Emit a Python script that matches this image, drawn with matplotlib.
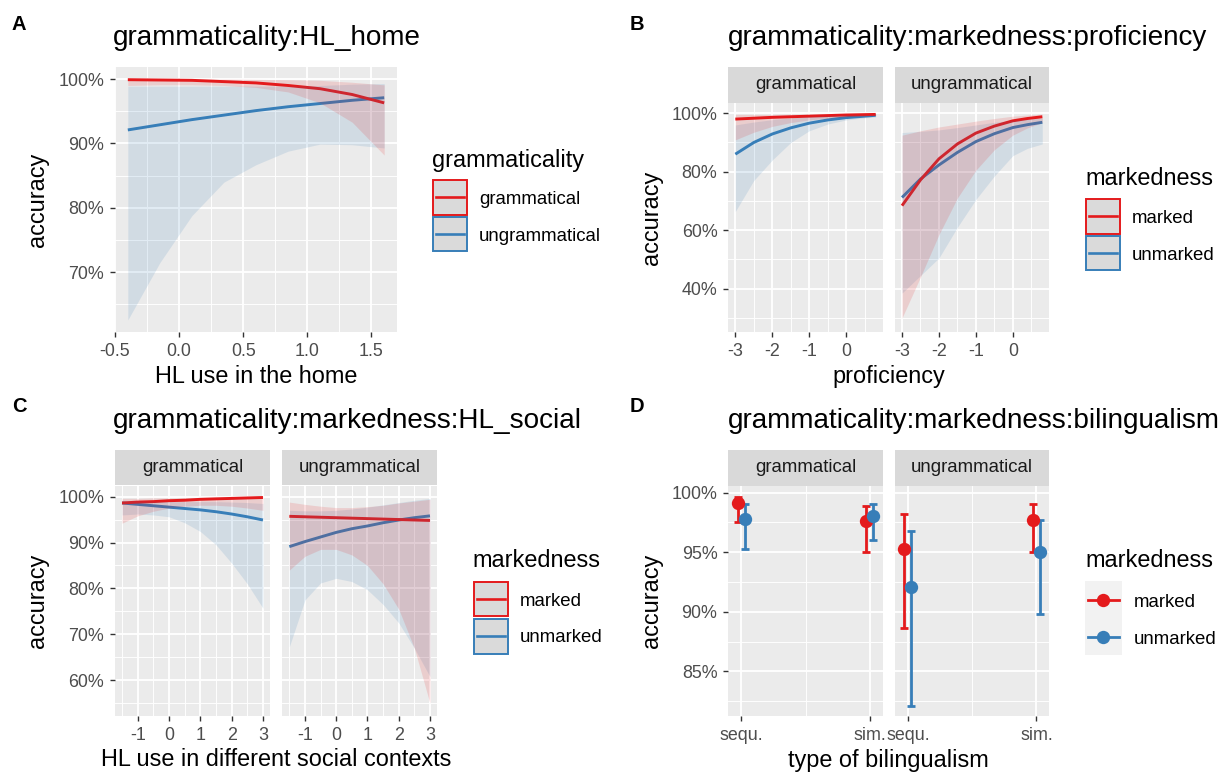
import matplotlib
matplotlib.use("Agg")
import matplotlib.pyplot as plt
from matplotlib.patches import Rectangle
from matplotlib.lines import Line2D
from matplotlib.ticker import FuncFormatter

plt.rcParams['font.family'] = ['Liberation Sans', 'DejaVu Sans']
plt.rcParams['axes.unicode_minus'] = False

# ---------------- data ----------------
RED = '#E41A1C'
BLUE = '#377EB8'

# Panel A: grammaticality:HL_home
a_x = [-0.4, -0.15, 0.1, 0.35, 0.6, 0.85, 1.1, 1.35, 1.6]
a_gram_fit = [99.9, 99.85, 99.8, 99.6, 99.4, 99.0, 98.5, 97.6, 96.3]
a_gram_hi = [100.0, 100.0, 100.0, 100.0, 99.95, 99.9, 99.8, 99.5, 99.1]
a_gram_lo = [99.0, 99.1, 99.1, 99.0, 98.7, 98.0, 96.3, 93.3, 88.2]
a_ungr_fit = [92.1, 92.9, 93.7, 94.4, 95.1, 95.7, 96.2, 96.7, 97.1]
a_ungr_hi = [98.9, 98.9, 98.9, 98.9, 98.9, 98.9, 99.0, 99.2, 99.3]
a_ungr_lo = [62.6, 71.5, 78.8, 84.0, 86.7, 88.8, 89.9, 89.8, 89.3]

# Panel B: grammaticality:markedness:proficiency
b_x = [-3.0, -2.5, -2.0, -1.5, -1.0, -0.5, 0.0, 0.4, 0.8]
b_g_mk_fit = [98.0, 98.3, 98.6, 98.8, 99.0, 99.2, 99.4, 99.5, 99.6]
b_g_mk_hi = [99.6, 99.6, 99.6, 99.7, 99.7, 99.7, 99.8, 99.8, 99.8]
b_g_mk_lo = [90.9, 93.5, 95.5, 96.8, 97.7, 98.3, 98.8, 99.0, 99.2]
b_g_um_fit = [86.0, 90.0, 92.9, 95.0, 96.6, 97.7, 98.5, 98.9, 99.3]
b_g_um_hi = [96.0, 97.0, 97.8, 98.4, 98.9, 99.2, 99.4, 99.5, 99.6]
b_g_um_lo = [66.4, 77.0, 84.0, 90.0, 94.0, 96.3, 97.7, 98.3, 98.7]
b_u_mk_fit = [68.4, 77.2, 84.4, 89.5, 93.2, 95.6, 97.4, 98.2, 98.8]
b_u_mk_hi = [92.5, 94.0, 95.3, 96.3, 97.3, 98.2, 99.0, 99.4, 99.7]
b_u_mk_lo = [30.0, 44.0, 58.5, 71.0, 80.5, 87.5, 92.5, 95.0, 96.8]
b_u_um_fit = [71.2, 77.5, 82.3, 86.6, 90.3, 93.0, 95.1, 96.1, 96.9]
b_u_um_hi = [93.4, 93.8, 94.3, 95.1, 96.0, 96.9, 97.6, 98.0, 98.3]
b_u_um_lo = [38.5, 44.5, 50.5, 61.0, 70.5, 78.5, 85.5, 88.0, 89.5]

# Panel C: grammaticality:markedness:HL_social
c_x = [-1.5, -1.0, -0.5, 0.0, 0.5, 1.0, 1.5, 2.0, 2.5, 3.0]
c_g_mk_fit = [98.6, 98.8, 98.9, 99.1, 99.2, 99.4, 99.5, 99.6, 99.7, 99.8]
c_g_mk_hi = [99.6, 99.6, 99.7, 99.7, 99.8, 99.8, 99.9, 99.9, 99.95, 99.95]
c_g_mk_lo = [94.2, 95.8, 96.8, 97.5, 97.9, 98.1, 98.1, 97.9, 97.5, 97.0]
c_g_um_fit = [98.6, 98.3, 98.0, 97.7, 97.4, 97.1, 96.7, 96.2, 95.6, 94.9]
c_g_um_hi = [99.2, 99.1, 99.0, 98.9, 98.9, 98.9, 98.9, 98.8, 98.7, 98.5]
c_g_um_lo = [96.0, 96.2, 96.0, 95.6, 94.3, 92.4, 89.5, 85.5, 81.0, 75.7]
c_u_mk_fit = [95.7, 95.6, 95.5, 95.4, 95.3, 95.2, 95.1, 95.0, 94.9, 94.8]
c_u_mk_hi = [98.8, 98.3, 97.9, 97.6, 97.6, 97.8, 98.1, 98.6, 99.0, 99.4]
c_u_mk_lo = [84.0, 87.0, 88.5, 88.5, 87.3, 85.0, 81.0, 75.5, 67.0, 55.0]
c_u_um_fit = [89.1, 90.2, 91.2, 92.2, 93.0, 93.6, 94.3, 94.9, 95.4, 95.8]
c_u_um_hi = [97.0, 96.9, 96.9, 97.0, 97.3, 97.7, 98.2, 98.7, 99.2, 99.6]
c_u_um_lo = [67.3, 77.5, 81.2, 82.2, 81.5, 79.7, 76.5, 72.5, 67.0, 60.8]

# Panel D: grammaticality:markedness:bilingualism
d_types = ['sequ.', 'sim.']
d_g_mk = [99.11, 97.60]
d_g_mk_hi = [99.66, 98.88]
d_g_mk_lo = [97.56, 94.99]
d_g_um = [97.79, 98.00]
d_g_um_hi = [99.02, 99.05]
d_g_um_lo = [95.27, 96.03]
d_u_mk = [95.27, 97.70]
d_u_mk_hi = [98.18, 99.02]
d_u_mk_lo = [88.60, 94.99]
d_u_um = [92.10, 95.04]
d_u_um_hi = [96.78, 97.70]
d_u_um_lo = [82.08, 89.78]

facet_names = ['grammatical', 'ungrammatical']
mark_names = ['marked', 'unmarked']

# ---------------- layout helpers ----------------
W, H = 1230, 772
fig = plt.figure(figsize=(W / 100, H / 100), dpi=100)
fig.patch.set_facecolor('white')

LW = 2.1
TICK_FS = 12.9
AX_FS = 16.9
TITLE_FS = 20.1
SMALL_FS = 13.4
TAG_FS = 14.5


def fx(x):
    return x / W


def fy(y):
    return 1 - y / H


def add_ax(x0, y0, x1, y1):
    return fig.add_axes([x0 / W, 1 - y1 / H, (x1 - x0) / W, (y1 - y0) / H])


pct = FuncFormatter(lambda v, _: f"{v:g}%")


def style(ax, xlim, ylim, xmaj, xmin, ymaj, ymin, show_y=True, xlabels=None):
    ax.set_facecolor('#EBEBEB')
    for s in ax.spines.values():
        s.set_visible(False)
    ax.set_axisbelow(True)
    ax.set_xlim(*xlim)
    ax.set_ylim(*ylim)
    ax.set_xticks(xmaj)
    ax.set_xticks(xmin, minor=True)
    ax.set_yticks(ymaj)
    ax.set_yticks(ymin, minor=True)
    if xlabels is not None:
        ax.set_xticklabels(xlabels)
    ax.yaxis.set_major_formatter(pct)
    ax.grid(which='major', color='white', lw=1.3)
    ax.grid(which='minor', color='white', lw=0.65)
    ax.tick_params(which='minor', length=0)
    ax.tick_params(which='major', length=3.6, width=1.0, color='#333333',
                   labelcolor='#4D4D4D', labelsize=TICK_FS, pad=4.2)
    if not show_y:
        ax.tick_params(axis='y', which='both', left=False, labelleft=False)


def strip(x0, y0, x1, y1, label):
    s = add_ax(x0, y0, x1, y1)
    s.set_facecolor('#D9D9D9')
    for sp in s.spines.values():
        sp.set_visible(False)
    s.set_xticks([])
    s.set_yticks([])
    s.text(0.5, 0.5, label, ha='center', va='center', fontsize=SMALL_FS,
           color='#1A1A1A', transform=s.transAxes)


def ribbons(ax, x, groups):
    # groups: list of (fit, lo, hi, color); lines first, ribbons drawn over them
    for fit, lo, hi, col in groups:
        ax.plot(x, fit, color=col, lw=LW, zorder=2, solid_capstyle='butt')
    for fit, lo, hi, col in groups:
        ax.fill_between(x, lo, hi, color=col, alpha=0.14, lw=0, zorder=3)


def ribbon_legend(x0, title_base, key_tops, labels, label_bases, title):
    fig.text(fx(x0), fy(title_base), title, fontsize=AX_FS, va='baseline', ha='left')
    for top, col, lab, lb in zip(key_tops, [RED, BLUE], labels, label_bases):
        r = Rectangle((fx(x0 + 0.8), fy(top + 34.5)), 34.5 / W, 34.5 / H,
                      transform=fig.transFigure, facecolor='#DADADA',
                      edgecolor=col, lw=1.4)
        fig.add_artist(r)
        yc = top + 17.25
        fig.add_artist(Line2D([fx(x0 + 4), fx(x0 + 32)], [fy(yc), fy(yc)],
                              transform=fig.transFigure, color=col, lw=1.9))
        fig.text(fx(x0 + 47), fy(lb), lab, fontsize=SMALL_FS, va='baseline', ha='left')


# ---------------- Panel A ----------------
axA = add_ax(115, 67, 397, 332)
style(axA, (-0.5, 1.7), (60.73, 101.87),
      [-0.5, 0.0, 0.5, 1.0, 1.5], [-0.25, 0.25, 0.75, 1.25],
      [70, 80, 90, 100], [65, 75, 85, 95],
      xlabels=['-0.5', '0.0', '0.5', '1.0', '1.5'])
ribbons(axA, a_x, [(a_ungr_fit, a_ungr_lo, a_ungr_hi, BLUE),
                   (a_gram_fit, a_gram_lo, a_gram_hi, RED)])
fig.text(fx(12), fy(29.5), 'A', fontsize=TAG_FS, weight='bold', va='baseline')
fig.text(fx(113), fy(45), 'grammaticality:HL_home', fontsize=TITLE_FS, va='baseline')
fig.text(fx(37), fy(199.5), 'accuracy', fontsize=AX_FS, rotation=90, va='center', ha='center')
fig.text(fx(256), fy(376.7), 'HL use in the home', fontsize=AX_FS, va='center', ha='center')
ribbon_legend(432, 166.7, [180, 216.7], ['grammatical', 'ungrammatical'],
              [204, 240.7], 'grammaticality')

# ---------------- Panel B ----------------
b_data = [
    [(b_g_um_fit, b_g_um_lo, b_g_um_hi, BLUE), (b_g_mk_fit, b_g_mk_lo, b_g_mk_hi, RED)],
    [(b_u_um_fit, b_u_um_lo, b_u_um_hi, BLUE), (b_u_mk_fit, b_u_mk_lo, b_u_mk_hi, RED)],
]
for i, (x0, x1) in enumerate([(728.3, 882.7), (895.0, 1049.3)]):
    ax = add_ax(x0, 103.3, x1, 331.7)
    style(ax, (-3.19, 0.99), (25.3, 103.4), [-3, -2, -1, 0], [-2.5, -1.5, -0.5, 0.5],
          [40, 60, 80, 100], [30, 50, 70, 90], show_y=(i == 0))
    ribbons(ax, b_x, b_data[i])
    strip(x0, 66.7, x1, 102.7, facet_names[i])
fig.text(fx(630), fy(29.5), 'B', fontsize=TAG_FS, weight='bold', va='baseline')
fig.text(fx(728), fy(45), 'grammaticality:markedness:proficiency', fontsize=TITLE_FS,
         va='baseline')
fig.text(fx(651), fy(217.5), 'accuracy', fontsize=AX_FS, rotation=90, va='center', ha='center')
fig.text(fx(888.8), fy(376.7), 'proficiency', fontsize=AX_FS, va='center', ha='center')
ribbon_legend(1085, 185, [199, 235.7], mark_names, [223, 259.5], 'markedness')

# ---------------- Panel C ----------------
c_data = [
    [(c_g_um_fit, c_g_um_lo, c_g_um_hi, BLUE), (c_g_mk_fit, c_g_mk_lo, c_g_mk_hi, RED)],
    [(c_u_um_fit, c_u_um_lo, c_u_um_hi, BLUE), (c_u_mk_fit, c_u_mk_lo, c_u_mk_hi, RED)],
]
for i, (x0, x1) in enumerate([(115.0, 270.0), (282.3, 437.0)]):
    ax = add_ax(x0, 486, x1, 715.7)
    style(ax, (-1.725, 3.225), (52.3, 102.3), [-1, 0, 1, 2, 3], [-1.5, -0.5, 0.5, 1.5, 2.5],
          [60, 70, 80, 90, 100], [55, 65, 75, 85, 95], show_y=(i == 0))
    ribbons(ax, c_x, c_data[i])
    strip(x0, 450, x1, 485.3, facet_names[i])
fig.text(fx(12), fy(412.5), 'C', fontsize=TAG_FS, weight='bold', va='baseline')
fig.text(fx(113), fy(428.5), 'grammaticality:markedness:HL_social', fontsize=TITLE_FS,
         va='baseline')
fig.text(fx(37), fy(600.9), 'accuracy', fontsize=AX_FS, rotation=90, va='center', ha='center')
fig.text(fx(276), fy(760), 'HL use in different social contexts', fontsize=AX_FS,
         va='center', ha='center')
ribbon_legend(472.7, 566.7, [581.7, 619], mark_names, [606, 642], 'markedness')

# ---------------- Panel D ----------------
d_data = [
    [(d_g_mk, d_g_mk_lo, d_g_mk_hi), (d_g_um, d_g_um_lo, d_g_um_hi)],
    [(d_u_mk, d_u_mk_lo, d_u_mk_hi), (d_u_um, d_u_um_lo, d_u_um_hi)],
]
d_pos = [1, 2]
dodge = [-0.028, 0.028]
for i, (x0, x1) in enumerate([(728.3, 882.7), (895.0, 1049.3)]):
    ax = add_ax(x0, 486, x1, 715.7)
    style(ax, (0.9, 2.1), (81.27, 100.56), d_pos, [1.5],
          [85, 90, 95, 100], [82.5, 87.5, 92.5, 97.5], show_y=(i == 0), xlabels=d_types)
    for (vals, lo, hi), col, dd in zip(d_data[i], [RED, BLUE], dodge):
        xs = [p + dd for p in d_pos]
        yerr = [[v - l for v, l in zip(vals, lo)], [h - v for v, h in zip(vals, hi)]]
        ax.errorbar(xs, vals, yerr=yerr, fmt='none', ecolor=col, elinewidth=2.0,
                    capsize=2.6, capthick=2.0, zorder=3)
        ax.plot(xs, vals, 'o', color=col, ms=9.6, zorder=4, mew=0)
    strip(x0, 450, x1, 485.5, facet_names[i])
fig.text(fx(630), fy(412.5), 'D', fontsize=TAG_FS, weight='bold', va='baseline')
fig.text(fx(728), fy(428.5), 'grammaticality:markedness:bilingualism', fontsize=TITLE_FS,
         va='baseline')
fig.text(fx(651), fy(600.9), 'accuracy', fontsize=AX_FS, rotation=90, va='center', ha='center')
fig.text(fx(888.8), fy(760), 'type of bilingualism', fontsize=AX_FS, va='center', ha='center')

# legend D
fig.text(fx(1085), fy(566.7), 'markedness', fontsize=AX_FS, va='baseline', ha='left')
fig.add_artist(Rectangle((fx(1085), fy(655)), 36.7 / W, 74 / H, transform=fig.transFigure,
                         facecolor='#F2F2F2', edgecolor='none'))
for yc, col, lab, lb in zip([599.5, 636.5], [RED, BLUE], mark_names, [607.3, 643.5]):
    fig.add_artist(Line2D([fx(1088), fx(1118.5)], [fy(yc), fy(yc)], transform=fig.transFigure,
                          color=col, lw=2.0))
    fig.add_artist(Line2D([fx(1103.3)], [fy(yc)], transform=fig.transFigure, marker='o',
                          color=col, ms=9.6, mew=0, lw=0))
    fig.text(fx(1133.3), fy(lb), lab, fontsize=SMALL_FS, va='baseline', ha='left')

fig.savefig('out.png', dpi=100)
